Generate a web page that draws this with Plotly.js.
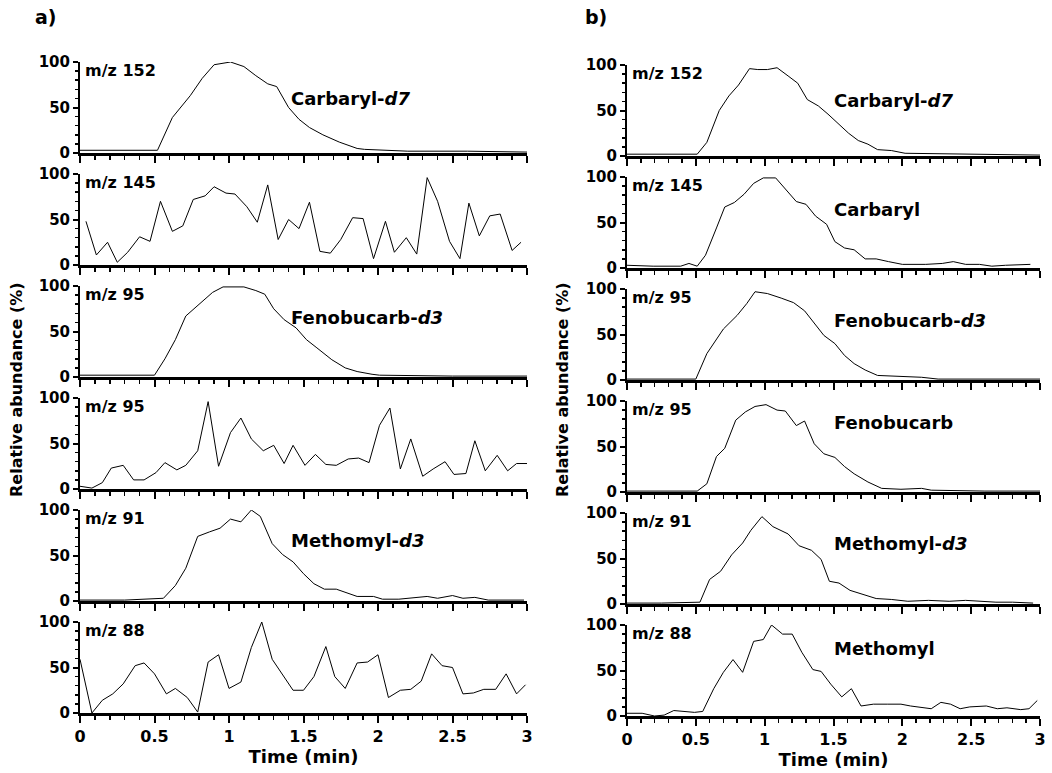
<!DOCTYPE html>
<html>
<head>
<meta charset="utf-8">
<script src="https://cdn.plot.ly/plotly-3.0.1.min.js"></script>
<style>html,body{margin:0;padding:0;background:#fff;}#chart{width:1052px;height:773px;}</style>
</head>
<body>
<div id="chart"></div>
<script>
// ---------- Panel a) ----------
const a1_t = [0, 0.2, 0.4, 0.52, 0.62, 0.74, 0.82, 0.90, 1.01, 1.10, 1.18, 1.26, 1.32, 1.40, 1.47, 1.54, 1.63, 1.74, 1.86, 1.91, 2.2, 2.6, 3.0];
const a1_v = [3, 3, 3, 3, 39, 63, 82, 97, 100, 95, 85, 76, 73, 50, 37, 28, 20, 12, 5, 4, 2, 2, 1];

const a2_t = [0.04, 0.11, 0.185, 0.25, 0.32, 0.40, 0.47, 0.54, 0.62, 0.69, 0.76, 0.84, 0.90, 0.98, 1.04, 1.12, 1.19, 1.26, 1.33, 1.40, 1.47, 1.54, 1.61, 1.68, 1.75, 1.83, 1.90, 1.97, 2.05, 2.11, 2.19, 2.26, 2.33, 2.40, 2.48, 2.55, 2.61, 2.68, 2.75, 2.82, 2.90, 2.96];
const a2_v = [48, 11, 25, 3, 14, 31, 26, 70, 37, 43, 72, 76, 86, 79, 78, 64, 47, 88, 28, 50, 40, 69, 15, 13, 28, 52, 51, 7, 48, 14, 30, 12, 96, 70, 26, 7, 68, 32, 54, 56, 16, 25];

const a3_t = [0, 0.25, 0.50, 0.57, 0.64, 0.71, 0.81, 0.89, 0.96, 1.10, 1.18, 1.24, 1.30, 1.37, 1.45, 1.52, 1.59, 1.69, 1.78, 1.86, 1.96, 2.01, 2.5, 3.0];
const a3_v = [2, 2, 2, 20, 41, 67, 82, 93, 99, 99, 95, 91, 75, 63, 54, 41, 32, 19, 10, 6, 3, 2, 1, 1];

const a4_t = [0, 0.08, 0.15, 0.21, 0.29, 0.36, 0.43, 0.51, 0.57, 0.65, 0.71, 0.79, 0.86, 0.93, 1.01, 1.08, 1.15, 1.23, 1.30, 1.37, 1.43, 1.51, 1.58, 1.65, 1.72, 1.80, 1.87, 1.94, 2.01, 2.08, 2.15, 2.22, 2.30, 2.37, 2.45, 2.51, 2.59, 2.65, 2.72, 2.80, 2.87, 2.93, 3.0];
const a4_v = [3, 1, 7, 23, 26, 10, 10, 18, 29, 21, 26, 42, 96, 25, 62, 78, 55, 42, 48, 28, 48, 26, 38, 27, 26, 33, 34, 29, 70, 89, 22, 55, 14, 22, 30, 16, 17, 53, 20, 37, 20, 28, 28];

const a5_t = [0, 0.3, 0.56, 0.64, 0.71, 0.79, 0.87, 0.94, 1.01, 1.08, 1.15, 1.21, 1.29, 1.36, 1.43, 1.50, 1.57, 1.64, 1.72, 1.79, 1.86, 1.97, 2.03, 2.14, 2.33, 2.40, 2.50, 2.57, 2.65, 2.74, 2.98];
const a5_v = [1, 1, 3, 17, 36, 71, 76, 80, 90, 87, 100, 93, 63, 51, 43, 30, 19, 13, 13, 9, 5, 5, 2, 2, 5, 3, 6, 3, 4, 1, 1];

const a6_t = [0, 0.08, 0.15, 0.22, 0.29, 0.37, 0.43, 0.50, 0.58, 0.64, 0.72, 0.79, 0.86, 0.93, 1.00, 1.08, 1.15, 1.22, 1.29, 1.37, 1.43, 1.50, 1.57, 1.65, 1.71, 1.78, 1.86, 1.93, 2.00, 2.07, 2.15, 2.22, 2.29, 2.36, 2.43, 2.50, 2.57, 2.64, 2.71, 2.79, 2.86, 2.93, 2.99];
const a6_v = [59, 0, 14, 21, 32, 52, 55, 43, 21, 27, 17, 1, 56, 64, 27, 34, 72, 100, 59, 40, 25, 25, 40, 73, 40, 27, 55, 56, 64, 17, 25, 26, 35, 65, 52, 50, 21, 22, 26, 26, 43, 21, 31];

// ---------- Panel b) ----------
const b1_t = [0, 0.25, 0.51, 0.58, 0.67, 0.74, 0.81, 0.89, 0.95, 1.02, 1.09, 1.17, 1.24, 1.31, 1.39, 1.46, 1.53, 1.61, 1.68, 1.75, 1.82, 1.92, 2.02, 2.5, 3.0];
const b1_v = [2, 2, 2, 15, 50, 66, 78, 96, 95, 95, 97, 88, 80, 62, 55, 46, 36, 25, 17, 13, 7, 6, 3, 2, 1];

const b2_t = [0, 0.19, 0.39, 0.45, 0.51, 0.57, 0.65, 0.71, 0.78, 0.85, 0.92, 0.99, 1.08, 1.15, 1.23, 1.30, 1.37, 1.45, 1.51, 1.58, 1.65, 1.73, 1.81, 1.90, 2.00, 2.17, 2.29, 2.37, 2.46, 2.56, 2.65, 2.75, 2.85, 2.93];
const b2_v = [3, 2, 2, 5, 2, 14, 44, 67, 72, 81, 93, 99, 99, 87, 73, 70, 57, 48, 29, 22, 20, 10, 10, 7, 4, 4, 5, 7, 4, 4, 2, 3, 4, 4];

const b3_t = [0, 0.25, 0.50, 0.58, 0.70, 0.80, 0.87, 0.93, 1.02, 1.12, 1.21, 1.29, 1.36, 1.43, 1.51, 1.58, 1.65, 1.73, 1.82, 1.95, 2.14, 2.26, 2.6, 3.0];
const b3_v = [1, 1, 1, 29, 56, 71, 84, 97, 95, 90, 85, 76, 63, 49, 40, 27, 18, 11, 5, 4, 3, 1, 1, 1];

const b4_t = [0, 0.25, 0.51, 0.58, 0.65, 0.71, 0.79, 0.86, 0.93, 1.01, 1.09, 1.15, 1.23, 1.29, 1.36, 1.43, 1.51, 1.58, 1.65, 1.75, 1.85, 1.99, 2.14, 2.21, 2.6, 3.0];
const b4_v = [1, 1, 1, 9, 39, 48, 79, 88, 94, 96, 90, 89, 73, 78, 53, 42, 38, 28, 20, 11, 4, 3, 4, 2, 1, 1];

const b5_t = [0, 0.25, 0.53, 0.60, 0.68, 0.76, 0.84, 0.90, 0.98, 1.06, 1.17, 1.25, 1.34, 1.41, 1.47, 1.54, 1.62, 1.70, 1.81, 1.92, 2.04, 2.19, 2.34, 2.46, 2.58, 2.68, 2.80, 2.95];
const b5_v = [1, 1, 2, 27, 36, 54, 67, 81, 96, 85, 77, 64, 59, 49, 25, 23, 15, 11, 6, 5, 3, 4, 3, 4, 3, 2, 2, 1];

const b6_t = [0, 0.11, 0.20, 0.27, 0.34, 0.42, 0.49, 0.55, 0.63, 0.70, 0.77, 0.84, 0.92, 0.99, 1.05, 1.13, 1.20, 1.27, 1.35, 1.41, 1.48, 1.56, 1.63, 1.70, 1.79, 1.89, 1.99, 2.06, 2.21, 2.28, 2.35, 2.42, 2.49, 2.61, 2.69, 2.76, 2.86, 2.92, 2.98];
const b6_v = [3, 3, 0, 1, 6, 5, 4, 5, 30, 48, 62, 48, 82, 84, 100, 90, 90, 70, 51, 49, 35, 21, 30, 11, 13, 13, 13, 11, 8, 15, 13, 8, 10, 11, 8, 9, 7, 8, 17];

const ionLabels = ["m/z 152", "m/z 145", "m/z 95", "m/z 95", "m/z 91", "m/z 88"];
const namesA = ["Carbaryl-<i>d7</i>", "", "Fenobucarb-<i>d3</i>", "", "Methomyl-<i>d3</i>", ""];
const namesB = ["Carbaryl-<i>d7</i>", "Carbaryl", "Fenobucarb-<i>d3</i>", "Fenobucarb", "Methomyl-<i>d3</i>", "Methomyl"];
const xTickVals = [0, 0.5, 1, 1.5, 2, 2.5, 3];
const xTickText = ["0", "0.5", "1", "1.5", "2", "2.5", "3"];
const yTickVals = [0, 50, 100];

const seriesA = [[a1_t, a1_v], [a2_t, a2_v], [a3_t, a3_v], [a4_t, a4_v], [a5_t, a5_v], [a6_t, a6_v]];
const seriesB = [[b1_t, b1_v], [b2_t, b2_v], [b3_t, b3_v], [b4_t, b4_v], [b5_t, b5_v], [b6_t, b6_v]];

const W = 1052, H = 773;
const FONT = "DejaVu Sans, Liberation Sans, Arial, sans-serif";
const px2y = p => 1 - p / H;

const panels = [
  {series: seriesA, names: namesA, x0: 80, x1: 527, top0: 62, nameX: 1.40},
  {series: seriesB, names: namesB, x0: 627, x1: 1040, top0: 65, nameX: 1.49}
];
const pitch = 112, rowH = 91;
const nameOffsets = [36, 32, 31, 22, 30, 23];

const data = [];
const layout = {
  width: W, height: H,
  margin: {l: 0, r: 0, t: 0, b: 0},
  paper_bgcolor: "#fff", plot_bgcolor: "#fff",
  showlegend: false,
  font: {family: FONT, color: "#000", size: 15, weight: "bold"},
  annotations: []
};

let k = 0;
panels.forEach((p, pi) => {
  for (let r = 0; r < 6; r++) {
    k++;
    const xa = "xaxis" + (k === 1 ? "" : k);
    const ya = "yaxis" + (k === 1 ? "" : k);
    const xr = "x" + (k === 1 ? "" : k);
    const yr = "y" + (k === 1 ? "" : k);
    const top = p.top0 + pitch * r, bot = top + rowH;
    data.push({
      type: "scatter", mode: "lines",
      x: p.series[r][0], y: p.series[r][1],
      xaxis: xr, yaxis: yr,
      line: {color: "#000", width: 1},
      hoverinfo: "skip"
    });
    const last = r === 5;
    layout[xa] = {
      domain: [p.x0 / W, p.x1 / W], anchor: yr,
      range: [0, 3], showgrid: false, zeroline: false,
      showline: true, linecolor: "#000", linewidth: 2.5,
      ticks: "outside", ticklen: 7, tickwidth: 2, tickcolor: "#000",
      tickvals: xTickVals, ticktext: xTickText,
      showticklabels: last,
      tickfont: {family: FONT, size: 16, color: "#000", weight: "bold"},
      minor: {dtick: 0.1, tick0: 0, ticks: "outside", ticklen: 4, tickwidth: 1.5, tickcolor: "#000"},
      fixedrange: true
    };
    if (last) {
      layout[xa].title = {text: "Time (min)", font: {family: FONT, size: 18, color: "#000", weight: "bold"}, standoff: 2};
    }
    layout[ya] = {
      domain: [px2y(bot), px2y(top)], anchor: xr,
      range: [0, 100], showgrid: false, zeroline: false,
      showline: true, linecolor: "#000", linewidth: 2,
      ticks: "outside", ticklen: 5, tickwidth: 2, tickcolor: "#000",
      tickvals: yTickVals,
      tickfont: {family: FONT, size: 15, color: "#000", weight: "bold"},
      minor: {dtick: 10, tick0: 0, ticks: "outside", ticklen: 3, tickwidth: 1.5, tickcolor: "#000"},
      fixedrange: true
    };
    layout.annotations.push({
      xref: "paper", yref: "paper",
      x: (p.x0 + 3) / W, y: px2y(top - 3),
      xanchor: "left", yanchor: "top",
      text: "<b>" + ionLabels[r] + "</b>", showarrow: false,
      font: {family: FONT, size: 16, color: "#000"}
    });
    if (p.names[r]) {
      layout.annotations.push({
        xref: xr, yref: "paper",
        x: p.nameX, y: px2y(top + nameOffsets[r]),
        xanchor: "left", yanchor: "middle",
        text: "<b>" + p.names[r] + "</b>", showarrow: false,
        font: {family: FONT, size: 18, color: "#000"}
      });
    }
  }
});

// Y titles and panel letters
[{x: 17}, {x: 563}].forEach(o => {
  layout.annotations.push({
    xref: "paper", yref: "paper", x: o.x / W, y: px2y(390),
    xanchor: "center", yanchor: "middle", textangle: -90,
    text: "<b>Relative abundance (%)</b>", showarrow: false,
    font: {family: FONT, size: 16, color: "#000"}
  });
});
layout.annotations.push({xref: "paper", yref: "paper", x: 33 / W, y: px2y(17), xanchor: "left", yanchor: "middle",
  text: "<b>a)</b>", showarrow: false, font: {family: FONT, size: 19, color: "#000"}});
layout.annotations.push({xref: "paper", yref: "paper", x: 583 / W, y: px2y(17), xanchor: "left", yanchor: "middle",
  text: "<b>b)</b>", showarrow: false, font: {family: FONT, size: 19, color: "#000"}});

Plotly.newPlot("chart", data, layout, {displayModeBar: false, staticPlot: true});
</script>
</body>
</html>
